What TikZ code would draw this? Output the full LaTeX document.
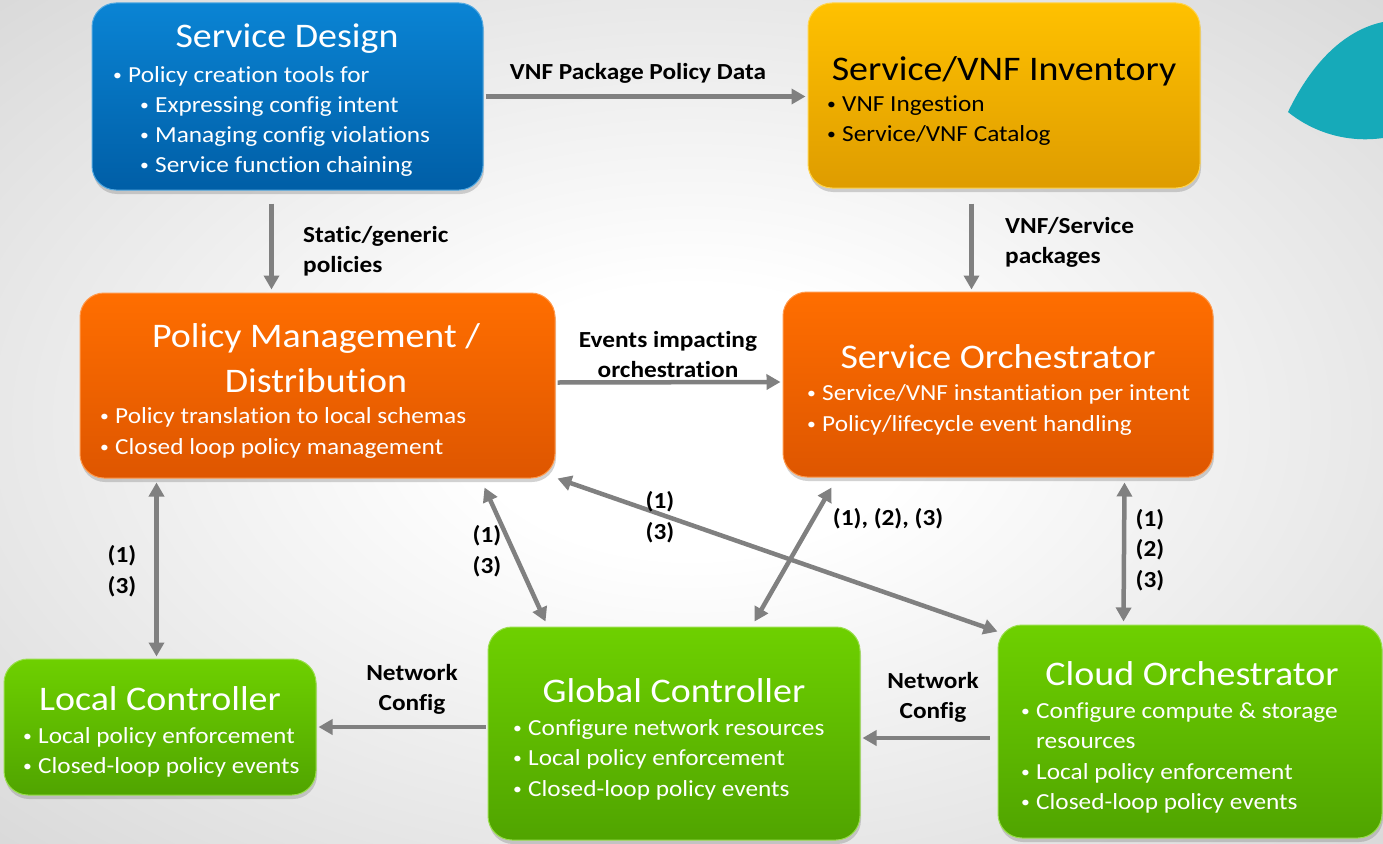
\documentclass[tikz,border=0pt]{standalone}
\usepackage{fontspec}
\setmainfont{Carlito}[FakeStretch=1.1, Ligatures=NoCommon]
\usetikzlibrary{arrows.meta,calc,shadows}
\definecolor{bggray}{RGB}{198,198,198}
\definecolor{sdtop}{RGB}{10,132,212}
\definecolor{sdbot}{RGB}{0,94,166}
\definecolor{invtop}{RGB}{255,193,0}
\definecolor{invbot}{RGB}{222,156,0}
\definecolor{ortop}{RGB}{255,110,0}
\definecolor{orbot}{RGB}{222,86,0}
\definecolor{grtop}{RGB}{110,208,0}
\definecolor{grbot}{RGB}{80,164,0}
\definecolor{arrgray}{RGB}{128,128,128}
\definecolor{tealc}{RGB}{22,170,185}
\pgfdeclareradialshading{bgshade}{\pgfpoint{0bp}{0bp}}{color(0bp)=(white); color(8bp)=(white); color(50bp)=(bggray); color(72bp)=(bggray)}
\newcommand\bu{\makebox[16pt][l]{\hspace{1pt}\raisebox{1.5pt}{\fontsize{16}{16}\selectfont•}}}
\begin{document}
\begin{tikzpicture}[x=1pt,y=-1pt,
  box/.style={rounded corners=24pt, inner sep=0pt, line width=1pt,
    drop shadow={opacity=0.35, shadow xshift=1pt, shadow yshift=-4pt}},
  bluebox/.style={box, top color=sdtop, bottom color=sdbot, draw=sdtop!70!white},
  goldbox/.style={box, top color=invtop, bottom color=invbot, draw=invtop!70!white},
  orbox/.style={box, top color=ortop, bottom color=orbot, draw=ortop!70!white},
  grbox/.style={box, top color=grtop, bottom color=grbot, draw=grtop!70!white},
  ttl/.style={text=white, font=\fontsize{34.5}{40}\selectfont, anchor=base, inner sep=0pt},
  bul/.style={text=white, font=\fontsize{23}{30}\selectfont, anchor=base west, inner sep=0pt},
  lbl/.style={font=\bfseries\fontsize{23}{30}\selectfont, anchor=base, inner sep=0pt},
  lblw/.style={lbl, anchor=base west},
  arr/.style={draw=arrgray, line width=4.5pt, -{Triangle[length=14pt,width=15pt]}},
  darr/.style={draw=arrgray, line width=4.5pt, {Triangle[length=14pt,width=15pt]}-{Triangle[length=14pt,width=15pt]}}
]
\useasboundingbox (0,0) rectangle (1383,843);
\shade[shading=bgshade] (0,0) rectangle (1383,843);
\fill[tealc] (1288,112) .. controls (1312,62) and (1345,30) .. (1383,22) -- (1383,138) .. controls (1348,143) and (1314,133) .. (1288,112) -- cycle;

% boxes
\node[bluebox, minimum width=391pt, minimum height=187pt] (sd) at (287.5,96.5) {};
\node[goldbox, minimum width=392pt, minimum height=185pt] (inv) at (1004,95.5) {};
\node[orbox, minimum width=475pt, minimum height=185pt] (pm) at (317.5,385.5) {};
\node[orbox, minimum width=430pt, minimum height=185pt] (so) at (998,384.5) {};
\node[grbox, minimum width=312pt, minimum height=136pt] (lc) at (160,727) {};
\node[grbox, minimum width=372pt, minimum height=213pt] (gc) at (674,733.5) {};
\node[grbox, minimum width=384pt, minimum height=213pt] (co) at (1190,731.5) {};

% Service Design
\node[ttl] (sdt) at (287,48) {Service Design};
\node[bul] (sd1) at (112,82) {\bu Policy creation tools for};
\node[bul] (sd2) at (139,112) {\bu Expressing config intent};
\node[bul] (sd3) at (139,142) {\bu Managing config violations};
\node[bul] (sd4) at (139,172) {\bu Service function chaining};
% Inventory
\node[ttl, text=black] (invt) at (1004,80) {Service/VNF Inventory};
\node[bul, text=black] (inv1) at (826,111) {\bu VNF Ingestion};
\node[bul, text=black] (inv2) at (826,141) {\bu Service/VNF Catalog};
% Policy Management
\node[ttl] (pmt1) at (316,347) {Policy Management /};
\node[ttl] (pmt2) at (316,392) {Distribution};
\node[bul] (pm1) at (99,423) {\bu Policy translation to local schemas};
\node[bul] (pm2) at (99,454) {\bu Closed loop policy management};
% Service Orchestrator
\node[ttl] (sot) at (998,368) {Service Orchestrator};
\node[bul] (so1) at (806,400) {\bu Service/VNF instantiation per intent};
\node[bul] (so2) at (806,431) {\bu Policy/lifecycle event handling};
% Local Controller
\node[ttl] (lct) at (160,710) {Local Controller};
\node[bul] (lc1) at (22,743) {\bu Local policy enforcement};
\node[bul] (lc2) at (22,773) {\bu Closed-loop policy events};
% Global Controller
\node[ttl] (gct) at (674,702) {Global Controller};
\node[bul] (gc1) at (512,735) {\bu Configure network resources};
\node[bul] (gc2) at (512,765) {\bu Local policy enforcement};
\node[bul] (gc3) at (512,796) {\bu Closed-loop policy events};
% Cloud Orchestrator
\node[ttl] (cot) at (1192,685) {Cloud Orchestrator};
\node[bul] (co1) at (1020,718) {\bu Configure compute \& storage};
\node[bul] (co2) at (1020,748) {\hspace{16pt}resources};
\node[bul] (co3) at (1020,779) {\bu Local policy enforcement};
\node[bul] (co4) at (1020,809) {\bu Closed-loop policy events};

% connectors
\draw[arr] ($(sd.east)+(2,0)$) -- ($(inv.west)+(-2,1)$);
\draw[arr] ($(sd.south west)+(180,13)$) -- ($(pm.north west)+(192,-3)$);
\draw[arr] ($(inv.south west)+(164,15)$) -- ($(so.north west)+(189,-2)$);
\draw[arr] ($(pm.east)+(2,-3)$) -- ($(so.west)+(-2,-2.5)$);
\draw[darr] ($(pm.south west)+(77,4)$) -- ($(lc.north west)+(153,-2)$);
\draw[darr] ($(pm.south west)+(405,9)$) -- ($(gc.north west)+(58,-5)$);
\draw[darr] ($(pm.south east)+(2,0)$) -- ($(co.north west)+(0,7)$);
\draw[darr] ($(so.south west)+(49,10)$) -- ($(gc.north west)+(267,-5)$);
\draw[darr] ($(so.south east)+(-89,5)$) -- ($(co.north west)+(126,-3)$);
\draw[arr] ($(gc.west)+(-2,-6.5)$) -- ($(lc.east)+(2,0)$);
\draw[arr] ($(co.west)+(-8,6.5)$) -- ($(gc.east)+(2,4.5)$);

% labels
\node[lbl] (l1) at (638,79) {VNF Package Policy Data};
\node[lblw] (l2a) at (303,242) {Static/generic};
\node[lblw] (l2b) at (303,272) {policies};
\node[lblw] (l3a) at (1005,233) {VNF/Service};
\node[lblw] (l3b) at (1005,263) {packages};
\node[lbl] (l4a) at (668,347) {Events impacting};
\node[lbl] (l4b) at (668,377) {orchestration};
\node[lbl] (l5a) at (122,562) {(1)};
\node[lbl] (l5b) at (122,593) {(3)};
\node[lbl] (l6a) at (487,542) {(1)};
\node[lbl] (l6b) at (487,573) {(3)};
\node[lbl] (l7a) at (660,508) {(1)};
\node[lbl] (l7b) at (660,539) {(3)};
\node[lbl] (l8) at (888,525) {(1), (2), (3)};
\node[lbl] (l9a) at (1150,526) {(1)};
\node[lbl] (l9b) at (1150,556) {(2)};
\node[lbl] (l9c) at (1150,587) {(3)};
\node[lbl] (l10a) at (412,680) {Network};
\node[lbl] (l10b) at (412,710) {Config};
\node[lbl] (l11a) at (933,688) {Network};
\node[lbl] (l11b) at (933,718) {Config};
\end{tikzpicture}
\end{document}
